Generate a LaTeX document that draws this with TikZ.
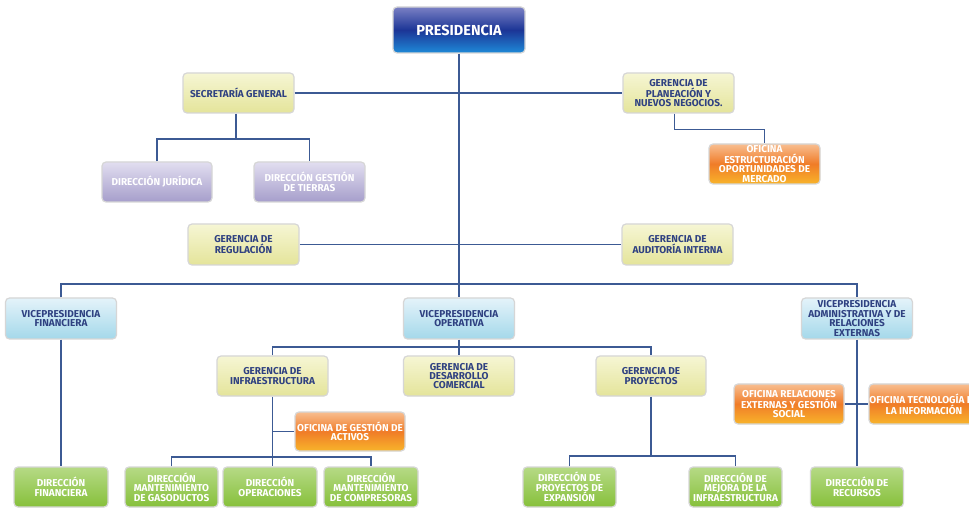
\documentclass[tikz,border=0pt]{standalone}
\usepackage{fontspec}
\setmainfont{Fira Sans}
\usetikzlibrary{calc}
\definecolor{navy}{HTML}{2F4181}
\definecolor{conn}{HTML}{3C5A94}
\definecolor{rim}{HTML}{D6D6D6}
\definecolor{presT}{HTML}{7A80C4}
\definecolor{presB}{HTML}{1E8AD8}
\definecolor{presM}{HTML}{1C3596}
\definecolor{yelT}{HTML}{F6F6D4}
\definecolor{yelB}{HTML}{E4E49A}
\definecolor{bluT}{HTML}{E4F3FA}
\definecolor{bluB}{HTML}{A4D8EA}
\definecolor{purT}{HTML}{E2DEF0}
\definecolor{purB}{HTML}{A69ECB}
\definecolor{oraT}{HTML}{F8BE90}
\definecolor{oraB}{HTML}{F8B42A}
\definecolor{oraM}{HTML}{F07C28}
\definecolor{grnT}{HTML}{B6DA86}
\definecolor{grnB}{HTML}{86C03A}
\tikzset{
  box/.style={rounded corners=4pt, draw=rim, line width=1.2pt, inner sep=0pt,
    minimum width=111pt, minimum height=40pt, align=center,
    font=\fontsize{10}{9.4}\selectfont\bfseries},
  presbox/.style={box, minimum width=132pt, minimum height=46pt,
    top color=presT, bottom color=presB, middle color=presM,
    text=white, font=\fontsize{14.5}{15}\selectfont\bfseries},
  ybox/.style={box, top color=yelT, bottom color=yelB, text=navy},
  bbox/.style={box, top color=bluT, bottom color=bluB, text=navy},
  pbox/.style={box, top color=purT, bottom color=purB, text=white},
  obox/.style={box, top color=oraT, bottom color=oraB, middle color=oraM, text=white},
  gbox/.style={box, minimum width=94pt, top color=grnT, bottom color=grnB, text=white},
  link/.style={draw=conn, line width=1.3pt},
}
\begin{document}
\begin{tikzpicture}[x=1pt,y=-1pt]
\useasboundingbox (0,0) rectangle (969,510);
\clip (0,0) rectangle (969,510);
\fill[white] (0,0) rectangle (969,510);
% bus coordinates
\coordinate (vbus) at (459,284);
\coordinate (sbus) at (236,139);
\coordinate (obus) at (459,347);
\coordinate (ibus) at (272,457);
\coordinate (gbus) at (651,456);
% nodes
\node[presbox] (pres) at (459,30) {PRESIDENCIA};
\node[ybox] (sec) at (238.5,93) {SECRETARÍA GENERAL};
\node[ybox] (plan) at (678.5,93) {GERENCIA DE\\PLANEACIÓN Y\\NUEVOS NEGOCIOS.};
\node[obox] (ofest) at (764.5,164) {OFICINA\\ESTRUCTURACIÓN\\OPORTUNIDADES DE\\MERCADO};
\node[pbox, minimum width=110pt] (jur) at (157,182) {DIRECCIÓN JURÍDICA};
\node[pbox] (tier) at (309.5,182) {DIRECCIÓN GESTIÓN\\DE TIERRAS};
\node[ybox, minimum height=41pt] (reg) at (243.5,244.5) {GERENCIA DE\\REGULACIÓN};
\node[ybox, minimum height=41pt] (aud) at (677.5,244.5) {GERENCIA DE\\AUDITORÍA INTERNA};
\node[bbox, minimum height=41pt] (vpf) at (61,318.5) {VICEPRESIDENCIA\\FINANCIERA};
\node[bbox, minimum height=41pt] (vpo) at (459,318.5) {VICEPRESIDENCIA\\OPERATIVA};
\node[bbox, minimum height=41pt] (vpa) at (857,318.5) {VICEPRESIDENCIA\\ADMINISTRATIVA Y DE\\RELACIONES\\EXTERNAS};
\node[ybox] (ginf) at (272.5,376) {GERENCIA DE\\INFRAESTRUCTURA};
\node[ybox] (gdes) at (459,376) {GERENCIA DE\\DESARROLLO\\COMERCIAL};
\node[ybox, minimum width=110pt] (gpro) at (651,376) {GERENCIA DE\\PROYECTOS};
\node[obox, minimum width=110pt, minimum height=39pt] (ofact) at (350,431.5) {OFICINA DE GESTIÓN DE\\ACTIVOS};
\node[obox, minimum width=110pt] (ofrel) at (789,404) {OFICINA RELACIONES\\EXTERNAS Y GESTIÓN\\SOCIAL};
\node[obox, minimum width=110pt] (oftec) at (924,404) {OFICINA TECNOLOGÍA DE\\LA INFORMACIÓN};
\node[gbox] (dfin) at (61,487) {DIRECCIÓN\\FINANCIERA};
\node[gbox, minimum width=93pt] (dgas) at (171.5,487) {DIRECCIÓN\\MANTENIMIENTO\\DE GASODUCTOS};
\node[gbox] (dope) at (270,487) {DIRECCIÓN\\OPERACIONES};
\node[gbox] (dcom) at (371,487) {DIRECCIÓN\\MANTENIMIENTO\\DE COMPRESORAS};
\node[gbox, minimum width=93pt] (dexp) at (569.5,487) {DIRECCIÓN DE\\PROYECTOS DE\\EXPANSIÓN};
\node[gbox, minimum width=93pt] (dmej) at (735.5,487) {DIRECCIÓN DE\\MEJORA DE LA\\INFRAESTRUCTURA};
\node[gbox, minimum width=93pt] (drec) at (857,487) {DIRECCIÓN DE\\RECURSOS};
% connectors
\draw[link] (pres.south) -- (vpo.north);
\draw[link] (sec.east) -- (plan.west);
\draw[link] (reg.east) -- (aud.west);
\draw[link] (vpf.north) |- (vbus) -| (vpa.north);
\draw[link] (sec.south -| sbus) -- (sbus);
\draw[link] (jur.north) |- (sbus) -| (tier.north);
\draw[link] ([xshift=-4pt]plan.south) -- ++(0,16) -| (ofest.north);
\draw[link] (ginf.north) |- (obus) -| (gpro.north);
\draw[link] (vpo.south) -- (gdes.north);
\draw[link] (ginf.south) -- (ginf.south |- dope.north);
\draw[link] (ofact.west) -- (ofact.west -| ginf.south);
\draw[link] (dgas.north) |- (ibus) -| (dcom.north);
\draw[link] (gpro.south) -- (gbus);
\draw[link] (dexp.north) |- (gbus) -| (dmej.north);
\draw[link] (vpa.south) -- (drec.north);
\draw[link] (ofrel.east) -- (oftec.west);
\draw[link] (vpf.south) -- (dfin.north);
\end{tikzpicture}
\end{document}
